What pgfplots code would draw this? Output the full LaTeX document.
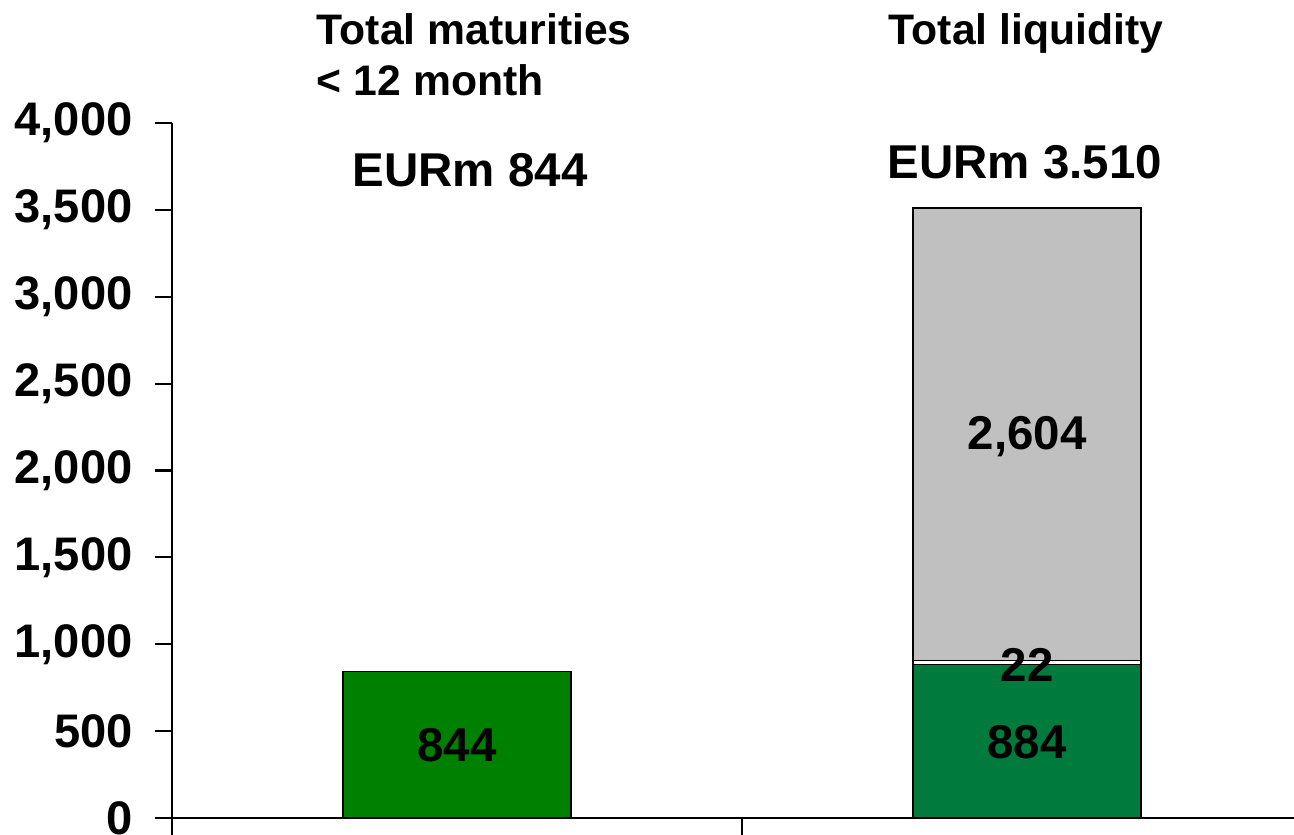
\documentclass[border=0pt]{standalone}
\usepackage{fontspec}
\setmainfont{Liberation Sans}
\usepackage{pgfplots}
\pgfplotsset{compat=1.18}
\definecolor{matgreen}{RGB}{0,128,0}
\definecolor{liqgreen}{RGB}{0,122,61}
\definecolor{liqgray}{RGB}{192,192,192}
\newcommand{\bigfont}{\fontsize{13.5pt}{15pt}\selectfont\bfseries}
\newcommand{\midfont}{\fontsize{12.15pt}{14pt}\selectfont\bfseries}

\begin{document}
\begin{tikzpicture}
\begin{axis}[
  at={(0,0)}, anchor=south west,
  scale only axis,
  width=11.22cm, height=6.95cm,
  ybar stacked,
  bar width=2.28cm,
  xmin=-0.5, xmax=1.468,
  ymin=0, ymax=4000,
  ytick={0,500,...,4000},
  xtick={-0.5,0.5},
  xticklabels={},
  axis x line*=bottom,
  axis y line*=left,
  axis line style={line width=0.6pt},
  tick style={line width=0.6pt, black},
  tick align=outside,
  major tick length=0.17cm,
  yticklabel style={font=\fontsize{13.4pt}{15pt}\selectfont\bfseries, xshift=-0.1cm},
  /pgf/number format/.cd, 1000 sep={,}, assume math mode=true,
  /pgfplots/.cd,
  clip=false,
]
% maturities < 12 month / total liquidity
\addplot[fill=matgreen, draw=black, line width=0.45pt] coordinates {(0,844) (1,0)};
\addplot[fill=liqgreen, draw=black, line width=0.45pt] coordinates {(0,0) (1,884)};
\addplot[fill=white, draw=black, line width=0.45pt] coordinates {(0,0) (1,22)};
\addplot[fill=liqgray, draw=black, line width=0.45pt] coordinates {(0,0) (1,2604)};

\node[anchor=base west, inner sep=0pt, font=\midfont] at (axis cs:-0.247,4449) {Total maturities};
\node[anchor=base west, inner sep=0pt, font=\midfont] at (axis cs:-0.247,4161) {< 12 month};
\node[anchor=base west, inner sep=0pt, font=\midfont] at (axis cs:0.756,4449) {Total liquidity};
\node[anchor=base, inner sep=0pt, font=\bigfont] at (axis cs:0.023,3632) {EURm 844};
\node[anchor=base, inner sep=0pt, font=\bigfont] at (axis cs:0.996,3678) {EURm 3.510};

\coordinate (l844) at (axis cs:0,420);
\coordinate (l884) at (axis cs:1,437);
\coordinate (l22) at (axis cs:1,880);
\coordinate (l2604) at (axis cs:1,2193);
\end{axis}
\node[inner sep=0pt, font=\bigfont] at (l844) {844};
\node[inner sep=0pt, font=\bigfont] at (l884) {884};
\node[inner sep=0pt, font=\bigfont] at (l22) {22};
\node[inner sep=0pt, font=\bigfont] at (l2604) {2,604};
\pgfresetboundingbox
\path[use as bounding box] (-1.72cm,-0.17cm) rectangle (11.22cm,8.18cm);
\end{tikzpicture}
\end{document}
